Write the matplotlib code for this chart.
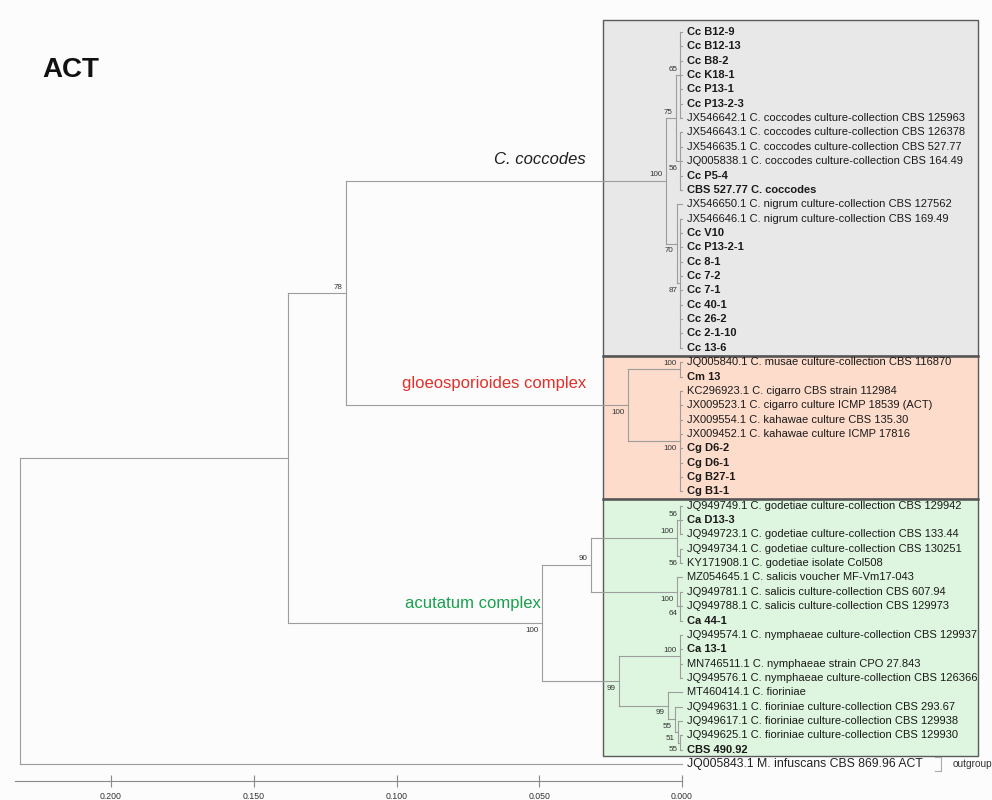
import matplotlib
matplotlib.use("Agg")
import matplotlib.pyplot as plt
from matplotlib.patches import Rectangle

plt.rcParams['font.family'] = ['Liberation Sans', 'DejaVu Sans']

# leaves, top to bottom
leaves = [
    'Cc B12-9', 'Cc B12-13', 'Cc B8-2', 'Cc K18-1', 'Cc P13-1', 'Cc P13-2-3',
    'JX546642.1 C. coccodes culture-collection CBS 125963',
    'JX546643.1 C. coccodes culture-collection CBS 126378',
    'JX546635.1 C. coccodes culture-collection CBS 527.77',
    'JQ005838.1 C. coccodes culture-collection CBS 164.49',
    'Cc P5-4', 'CBS 527.77 C. coccodes',
    'JX546650.1 C. nigrum culture-collection CBS 127562',
    'JX546646.1 C. nigrum culture-collection CBS 169.49',
    'Cc V10', 'Cc P13-2-1', 'Cc 8-1', 'Cc 7-2', 'Cc 7-1', 'Cc 40-1', 'Cc 26-2',
    'Cc 2-1-10', 'Cc 13-6',
    'JQ005840.1 C. musae culture-collection CBS 116870', 'Cm 13',
    'KC296923.1 C. cigarro CBS strain 112984',
    'JX009523.1 C. cigarro culture ICMP 18539 (ACT)',
    'JX009554.1 C. kahawae culture CBS 135.30',
    'JX009452.1 C. kahawae culture ICMP 17816',
    'Cg D6-2', 'Cg D6-1', 'Cg B27-1', 'Cg B1-1',
    'JQ949749.1 C. godetiae culture-collection CBS 129942', 'Ca D13-3',
    'JQ949723.1 C. godetiae culture-collection CBS 133.44',
    'JQ949734.1 C. godetiae culture-collection CBS 130251',
    'KY171908.1 C. godetiae isolate Col508',
    'MZ054645.1 C. salicis voucher MF-Vm17-043',
    'JQ949781.1 C. salicis culture-collection CBS 607.94',
    'JQ949788.1 C. salicis culture-collection CBS 129973',
    'Ca 44-1',
    'JQ949574.1 C. nymphaeae culture-collection CBS 129937', 'Ca 13-1',
    'MN746511.1 C. nymphaeae strain CPO 27.843',
    'JQ949576.1 C. nymphaeae culture-collection CBS 126366',
    'MT460414.1 C. fioriniae',
    'JQ949631.1 C. fioriniae culture-collection CBS 293.67',
    'JQ949617.1 C. fioriniae culture-collection CBS 129938',
    'JQ949625.1 C. fioriniae culture-collection CBS 129930',
    'CBS 490.92',
    'JQ005843.1 M. infuscans CBS 869.96 ACT',
]
bold_prefix = ('Cc', 'Cm', 'Cg', 'Ca', 'CBS')
outgroup_leaf = 51

# internal nodes: height (distance from tips), bootstrap, children
nodes = {
    'root':    (0.2319, None, ['ingroup', 51]),
    'ingroup': (0.1380, None, ['n78', 'acu']),
    'n78':     (0.1177, 78,  ['cocc', 'gloeo']),
    'cocc':    (0.0057, 100, ['c75', 'c70']),
    'c75':     (0.0022, 75,  ['c65', 'c56']),
    'c65':     (0.0006, 65,  list(range(0, 7))),
    'c56':     (0.0006, 56,  list(range(7, 12))),
    'c70':     (0.0018, 70,  [12, 'c87']),
    'c87':     (0.0006, 87,  list(range(13, 23))),
    'gloeo':   (0.0189, 100, ['g_mus', 'g_kah']),
    'g_mus':   (0.0006, 100, [23, 24]),
    'g_kah':   (0.0006, 100, list(range(25, 33))),
    'acu':     (0.0490, 100, ['a90', 'a99']),
    'a90':     (0.0320, 90,  ['god', 'sal']),
    'god':     (0.0019, 100, ['god_a', 'god_b']),
    'god_a':   (0.0006, 56,  [33, 34, 35]),
    'god_b':   (0.0006, 56,  [36, 37]),
    'sal':     (0.0019, 100, [38, 'sal64']),
    'sal64':   (0.0006, 64,  [39, 40, 41]),
    'a99':     (0.0221, 99,  ['nym', 'fio99']),
    'nym':     (0.0006, 100, [42, 43, 44, 45]),
    'fio99':   (0.0050, 99,  [46, 'fio55']),
    'fio55':   (0.0025, 55,  [47, 'fio51']),
    'fio51':   (0.0014, 51,  [48, 'fio55b']),
    'fio55b':  (0.0006, 55,  [49, 50]),
}

clades = ['C. coccodes', 'gloeosporioides complex', 'acutatum complex']
clade_rows = [(0, 22), (23, 32), (33, 50)]
clade_colors = ['#e8e8e8', '#fddccb', '#def6df']
clade_text_colors = ['#1e1e1e', '#e2302a', '#19a04e']

scale_ticks = [0.200, 0.150, 0.100, 0.050, 0.000]

line_c = '#9d9d9d'
fig = plt.figure(figsize=(9.92, 8.0), dpi=100)
fig.patch.set_facecolor('#fcfcfc')
ax = fig.add_axes([0, 0, 1, 1])
ax.set_facecolor('#fcfcfc')
ax.set_xlim(0.2389, -0.1086)
ax.set_ylim(53.5, -2.23)


def ypos(n):
    if isinstance(n, int):
        return n
    ch = nodes[n][2]
    return (ypos(ch[0]) + ypos(ch[-1])) / 2


def height(n):
    return 0.0 if isinstance(n, int) else nodes[n][0]


# clade boxes
tops = [-0.84, 22.56, 32.5]
bots = [22.56, 32.5, 50.42]
for i in range(3):
    ax.add_patch(Rectangle((0.0277, tops[i]), -0.1314, bots[i] - tops[i],
                           facecolor=clade_colors[i], edgecolor='#5a5a5a',
                           lw=1.0, zorder=1))
for yb in [22.56, 32.5]:
    ax.plot([0.0277, -0.1037], [yb, yb], color='#555555', lw=1.8, zorder=2)

# branches
for name, (h, sup, ch) in nodes.items():
    ys = [ypos(c) for c in ch]
    ax.plot([h, h], [ys[0], ys[-1]], color=line_c, lw=0.8, zorder=3)
    for c, yc in zip(ch, ys):
        ax.plot([h, height(c)], [yc, yc], color=line_c, lw=0.8, zorder=3)
        if not isinstance(c, int) and nodes[c][1] is not None:
            dy = -0.42 if c == ch[0] else 0.5
            ax.text(nodes[c][0] + 0.0011, yc + dy, str(nodes[c][1]),
                    fontsize=5.8, color='#333333', ha='right', va='center',
                    zorder=4)

# leaf labels
for i, lab in enumerate(leaves):
    if i == outgroup_leaf:
        ax.text(-0.0018, i, lab, fontsize=8.8, color='#222222',
                ha='left', va='center', zorder=4)
        continue
    bold = lab.split()[0] in bold_prefix
    ax.text(-0.0018, i, lab, fontsize=8, color='#1a1a1a',
            fontweight='bold' if bold else 'normal',
            ha='left', va='center', zorder=4)

# outgroup bracket
ax.plot([-0.0886, -0.0907, -0.0907, -0.0886],
        [outgroup_leaf - 0.5, outgroup_leaf - 0.5, outgroup_leaf + 0.45, outgroup_leaf + 0.45],
        color='#aaaaaa', lw=0.8)
ax.text(-0.0949, outgroup_leaf, 'outgroup', fontsize=7.3, color='#333333',
        ha='left', va='center')

# clade names
ax.text(0.0336, 8.9, clades[0], fontsize=12, style='italic',
        color=clade_text_colors[0], ha='right', va='center')
ax.text(0.0336, 24.5, clades[1], fontsize=12,
        color=clade_text_colors[1], ha='right', va='center')
ax.text(0.0494, 39.8, clades[2], fontsize=12,
        color=clade_text_colors[2], ha='right', va='center')

ax.text(0.2242, 2.65, 'ACT', fontsize=20, fontweight='bold',
        color='#111111', ha='left', va='center')

# scale axis
for s in ['top', 'left', 'right']:
    ax.spines[s].set_visible(False)
ax.spines['bottom'].set_position(('data', 52.2))
ax.spines['bottom'].set_bounds(0.2337, 0.0)
ax.spines['bottom'].set_color('#8a8a8a')
ax.spines['bottom'].set_linewidth(0.8)
ax.set_xticks(scale_ticks)
ax.set_xticklabels(['%.3f' % t for t in scale_ticks])
ax.tick_params(axis='x', direction='inout', length=8, width=0.8,
               color='#8a8a8a', labelsize=6.3, labelcolor='#333333', pad=4)
ax.set_yticks([])

fig.savefig('out.png', dpi=100, facecolor=fig.get_facecolor())
